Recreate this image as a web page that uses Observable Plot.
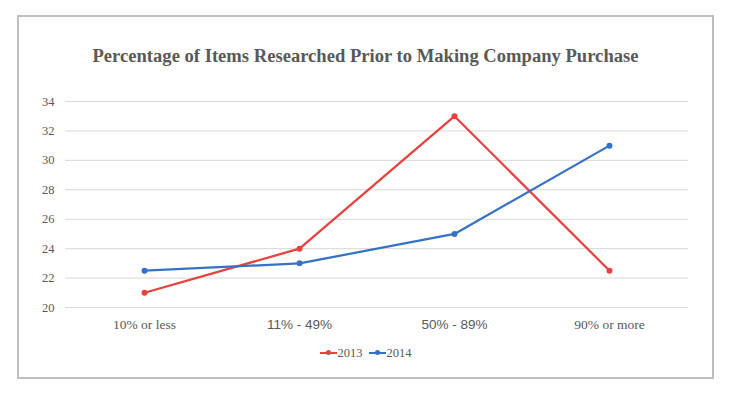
<!DOCTYPE html>
<html>
<head>
<meta charset="utf-8">
<script src="https://cdn.jsdelivr.net/npm/d3@7"></script>
<script src="https://cdn.jsdelivr.net/npm/@observablehq/plot@0.6"></script>
<style>
  html, body { margin: 0; padding: 0; background: #fff; }
  #wrap { position: relative; width: 731px; height: 396px; overflow: hidden; }
  #frame { position: absolute; left: 17px; top: 15px; width: 697px; height: 364px; box-sizing: border-box; border: 2px solid #bfbfbf; }
  #title { position: absolute; left: 0; width: 731px; top: 44px; text-align: center; font-family: "Liberation Serif", serif; font-weight: bold; font-size: 18.6px; color: #595959; line-height: 24px; }
  #chart { position: absolute; left: 0; top: 0; }
  #legend { position: absolute; left: 0; width: 731px; top: 343px; text-align: center; font-family: "Liberation Serif", serif; font-size: 12.5px; color: #595959; }
  .item { display: inline-flex; align-items: center; margin: 0 3px; }
  .sw { position: relative; display: inline-block; width: 17px; height: 2px; margin-right: 1px; }
  .sw i { position: absolute; left: 6px; top: -2px; width: 5px; height: 5px; border-radius: 50%; }
</style>
</head>
<body>
<div id="wrap">
  <div id="frame"></div>
  <div id="chart"></div>
  <div id="title">Percentage of Items Researched Prior to Making Company Purchase</div>
  <div id="legend"></div>
</div>
<script>
const categories = ["10% or less", "11% - 49%", "50% - 89%", "90% or more"];
const seriesNames = ["2013", "2014"];
const values2013 = [21, 24, 33, 22.5];
const values2014 = [22.5, 23, 25, 31];
const yTicks = [20, 22, 24, 26, 28, 30, 32, 34];
const colors = ["#e8413e", "#3572c6"];

const data = [];
categories.forEach((c, i) => {
  data.push({category: c, series: seriesNames[0], value: values2013[i]});
  data.push({category: c, series: seriesNames[1], value: values2014[i]});
});

const serifTicks = [categories[0], categories[3]];
const sansTicks = [categories[1], categories[2]];

const chart = Plot.plot({
  width: 731,
  height: 396,
  marginLeft: 65,
  marginRight: 43,
  marginTop: 101,
  marginBottom: 89,
  style: {background: "transparent", color: "#595959"},
  x: {type: "point", domain: categories, padding: 0.5, label: null},
  y: {domain: [20, 34], label: null},
  color: {domain: seriesNames, range: colors},
  marks: [
    Plot.gridY(yTicks, {stroke: "#d9d9d9", strokeOpacity: 1, strokeWidth: 1}),
    Plot.axisY({ticks: yTicks, tickSize: 0, tickPadding: 11, fontFamily: "Liberation Serif", fill: "#595959", label: null}),
    Plot.axisX({ticks: serifTicks, tickSize: 0, tickPadding: 12, fontFamily: "Liberation Serif", fill: "#595959", label: null}),
    Plot.axisX({ticks: sansTicks, tickSize: 0, tickPadding: 12, fontFamily: "Liberation Sans", fill: "#595959", label: null}),
    Plot.line(data, {x: "category", y: "value", stroke: "series", strokeWidth: 2.25, z: "series"}),
    Plot.dot(data, {x: "category", y: "value", fill: "series", r: 3, stroke: null})
  ]
});
const svg = d3.select(chart);
svg.selectAll('g[aria-label="y-axis tick label"]').attr("font-size", 12.5);
svg.selectAll('g[aria-label="x-axis tick label"]').attr("font-size", 13.5);
document.getElementById("chart").appendChild(chart);

const legend = document.getElementById("legend");
seriesNames.forEach((s, i) => {
  const item = document.createElement("span");
  item.className = "item";
  item.innerHTML = `<span class="sw" style="background:${colors[i]}"><i style="background:${colors[i]}"></i></span>${s}`;
  legend.appendChild(item);
});
</script>
</body>
</html>
